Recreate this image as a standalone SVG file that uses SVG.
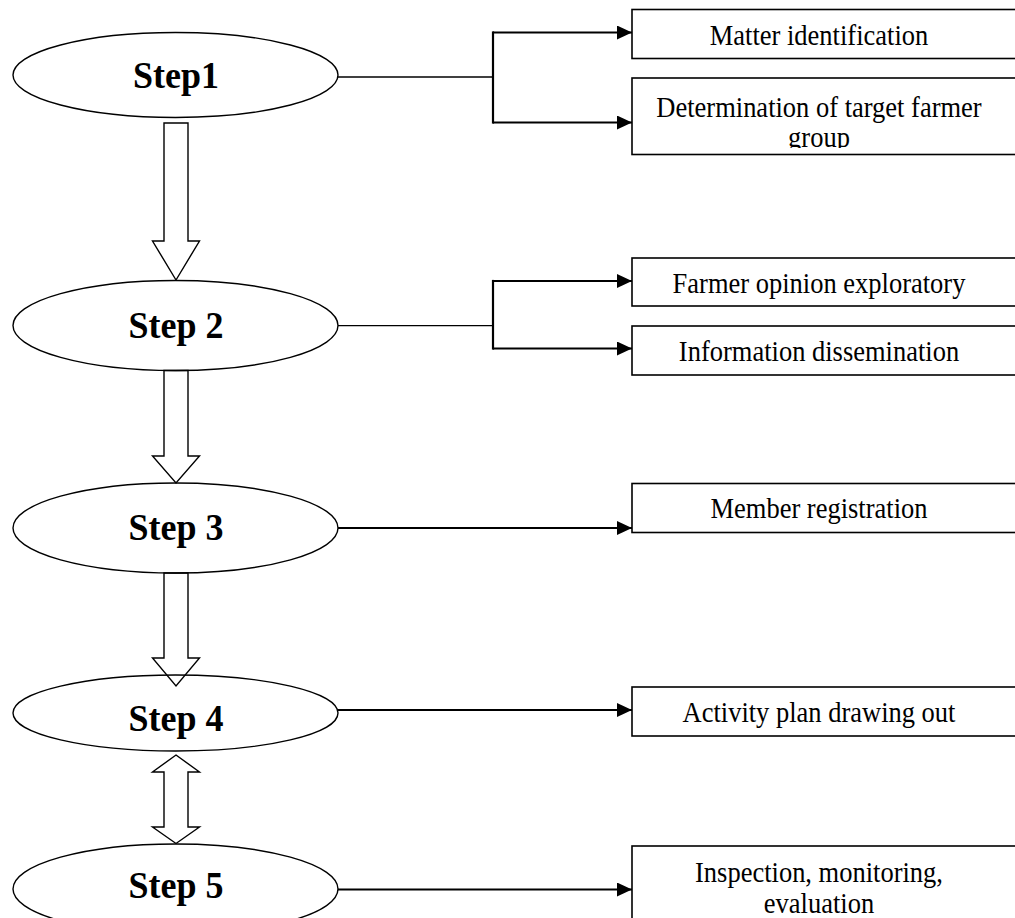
<svg xmlns="http://www.w3.org/2000/svg" width="1015" height="918" viewBox="0 0 1015 918">
  <style>
    .ell { fill: #fff; stroke: #000; stroke-width: 1.4; }
    .blk { fill: none; stroke: #000; stroke-width: 1.4; stroke-linejoin: miter; }
    .box { fill: #fff; stroke: #000; stroke-width: 1.6; }
    .thin { fill: none; stroke: #000; stroke-width: 1.3; }
    .conn { fill: none; stroke: #000; stroke-width: 2.2; }
    .step { font-family: "Liberation Serif", "Times New Roman", serif; font-weight: bold; font-size: 36px; text-anchor: middle; fill: #000; }
    .lbl { font-family: "Liberation Serif", "Times New Roman", serif; font-size: 26.5px; text-anchor: middle; fill: #000; }
  </style>
  <defs>
    <marker id="ah" viewBox="0 0 15 14" refX="15" refY="7" markerWidth="15" markerHeight="14" markerUnits="userSpaceOnUse" orient="auto">
      <path d="M0,0 L15,7 L0,14 z" fill="#000"/>
    </marker>
    <clipPath id="clipB2">
      <rect x="632" y="78" width="400" height="70"/>
    </clipPath>
  </defs>

  <g id="step1">
    <ellipse class="ell" cx="175.5" cy="75" rx="162.5" ry="42.5"/>
    <text class="step" transform="translate(176,88) scale(1,1.08)">Step1</text>
  </g>
  <g id="step2">
    <ellipse class="ell" cx="175.5" cy="325.5" rx="162.5" ry="45"/>
    <text class="step" transform="translate(176,337.5) scale(1,1.08)">Step 2</text>
  </g>
  <g id="step3">
    <ellipse class="ell" cx="175.5" cy="528" rx="162.5" ry="45"/>
    <text class="step" transform="translate(176,540) scale(1,1.08)">Step 3</text>
  </g>
  <g id="step4">
    <ellipse class="ell" cx="175.5" cy="713" rx="162.5" ry="38"/>
    <text class="step" transform="translate(176,731) scale(1,1.08)">Step 4</text>
  </g>
  <g id="step5">
    <ellipse class="ell" cx="175.5" cy="889" rx="162.5" ry="45"/>
    <text class="step" transform="translate(176,897.5) scale(1,1.08)">Step 5</text>
  </g>

  <g id="box-matter">
    <rect class="box" x="632" y="9.5" width="400" height="49"/>
    <text class="lbl" transform="translate(819,45) scale(1,1.1)">Matter identification</text>
  </g>
  <g id="box-target">
    <rect class="box" x="632" y="78" width="400" height="76.5"/>
    <g clip-path="url(#clipB2)">
      <text class="lbl" transform="translate(819,116.5) scale(1,1.1)">Determination of target farmer</text>
      <text class="lbl" transform="translate(819,147) scale(1,1.1)">group</text>
    </g>
  </g>
  <g id="box-opinion">
    <rect class="box" x="632" y="258" width="400" height="48"/>
    <text class="lbl" transform="translate(819,293) scale(1,1.1)">Farmer opinion exploratory</text>
  </g>
  <g id="box-info">
    <rect class="box" x="632" y="326" width="400" height="49"/>
    <text class="lbl" transform="translate(819,360.5) scale(1,1.1)">Information dissemination</text>
  </g>
  <g id="box-member">
    <rect class="box" x="632" y="483.5" width="400" height="49"/>
    <text class="lbl" transform="translate(819,517.5) scale(1,1.1)">Member registration</text>
  </g>
  <g id="box-activity">
    <rect class="box" x="632" y="687" width="400" height="49"/>
    <text class="lbl" transform="translate(819,722) scale(1,1.1)">Activity plan drawing out</text>
  </g>
  <g id="box-inspection">
    <rect class="box" x="632" y="846" width="400" height="100"/>
    <text class="lbl" transform="translate(819,881.5) scale(1,1.1)">Inspection, monitoring,</text>
    <text class="lbl" transform="translate(819,912.5) scale(1,1.1)">evaluation</text>
  </g>

  <g id="connectors">
    <!-- block arrows between steps -->
    <polygon class="blk" points="164,123 188,123 188,241 199.5,241 176,280 152.5,241 164,241"/>
    <polygon class="blk" points="164,370.5 188,370.5 188,456 199.5,456 176,483 152.5,456 164,456"/>
    <polygon class="blk" points="164,573 188,573 188,658 199.5,658 176,686 152.5,658 164,658"/>
    <polygon class="blk" points="176,755 199.5,772 188,772 188,827 199.5,827 176,843.5 152.5,827 164,827 164,772 152.5,772"/>

    <!-- Step1 branches -->
    <line class="thin" x1="338" y1="77" x2="493" y2="77"/>
    <line class="conn" x1="493" y1="31.4" x2="493" y2="123.6"/>
    <line class="conn" x1="493" y1="32.5" x2="632" y2="32.5" marker-end="url(#ah)"/>
    <line class="conn" x1="493" y1="122.5" x2="632" y2="122.5" marker-end="url(#ah)"/>
    <!-- Step2 branches -->
    <line class="thin" x1="338" y1="325.7" x2="493" y2="325.7"/>
    <line class="conn" x1="493" y1="279.9" x2="493" y2="349.6"/>
    <line class="conn" x1="493" y1="281" x2="632" y2="281" marker-end="url(#ah)"/>
    <line class="conn" x1="493" y1="348.5" x2="632" y2="348.5" marker-end="url(#ah)"/>
    <!-- Step3..5 -->
    <line class="conn" x1="338" y1="528" x2="632" y2="528" marker-end="url(#ah)"/>
    <line class="conn" x1="338" y1="710" x2="632" y2="710" marker-end="url(#ah)"/>
    <line class="conn" x1="338" y1="889.5" x2="632" y2="889.5" marker-end="url(#ah)"/>
  </g>
</svg>
